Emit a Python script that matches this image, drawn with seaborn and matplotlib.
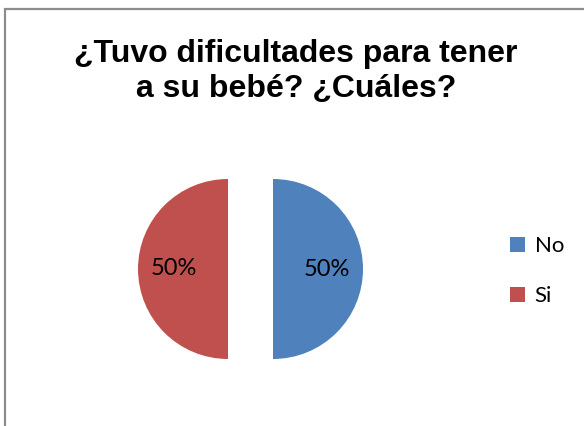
import matplotlib
matplotlib.use("Agg")
import matplotlib.pyplot as plt
import seaborn as sns
from matplotlib.patches import Rectangle, Patch

# data
categories = ["No", "Si"]
values = [50, 50]
colors = ["#4F81BD", "#C0504D"]
title = "¿Tuvo dificultades para tener\na su bebé? ¿Cuáles?"

sns.set_theme(style="white")
plt.rcParams["font.family"] = ["Lato", "DejaVu Sans"]
plt.rcParams["text.color"] = "black"

fig = plt.figure(figsize=(5.84, 4.26), dpi=100)

# chart frame (runs off right / bottom edges like the original)
fig.patches.append(Rectangle((5 / 584, -0.1), 1.2, (426 - 9) / 426 + 0.1,
                             transform=fig.transFigure, fill=False,
                             edgecolor="#8c8c8c", linewidth=1.6))

ax = fig.add_axes([115.5 / 584, 22 / 426, 270 / 584, 270 / 426])
ax.pie(values, colors=colors, startangle=90, counterclock=False,
       explode=[0.25, 0.25], autopct="%1.0f%%", pctdistance=0.6,
       textprops=dict(fontsize=17, color="black"),
       wedgeprops=dict(linewidth=0))
ax.set_xlim(-1.5, 1.5)
ax.set_ylim(-1.5, 1.5)
ax.set_aspect("equal")
ax.axis("off")

fig.text(296 / 584, 1 - 39 / 426, title, ha="center", va="top",
         fontsize=23, fontweight="bold", family="Liberation Sans",
         color="black", linespacing=1.22)

handles = [Patch(facecolor=c, edgecolor="none") for c in colors]
fig.legend(handles, categories, loc="center left",
           bbox_to_anchor=(499 / 584, 1 - 271 / 426), frameon=False,
           fontsize=16, handlelength=0.65, handleheight=0.65,
           handletextpad=0.45, labelspacing=1.35, borderpad=0)

fig.savefig("out.png", dpi=100)
